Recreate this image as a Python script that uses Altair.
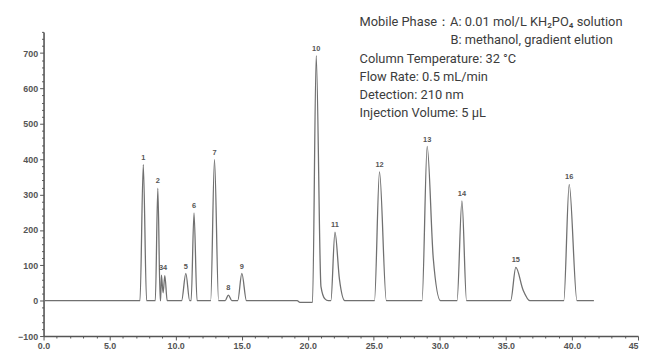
import altair as alt
import pandas as pd

# chromatogram trace (time in min, signal)
trace_time = [0.0, 7.30, 7.55, 7.80, 8.46, 8.65, 8.83, 8.86, 8.92, 9.05, 9.18, 9.36,
              10.45, 10.77, 11.06, 11.17, 11.39, 11.62, 12.65, 12.94, 13.25,
              13.75, 13.99, 14.25, 14.70, 15.01, 15.36, 19.20, 19.40, 20.30,
              20.36, 20.64, 21.00, 21.30, 21.55, 21.75, 22.06, 22.40, 22.80,
              25.05, 25.43, 25.95, 28.65, 29.04, 29.50, 30.05, 31.30, 31.67, 32.02,
              35.36, 35.75, 36.30, 36.82, 39.38, 39.79, 40.38, 41.66]
trace_signal = [0, 0, 385, 0, 0, 318, 0, 0, 72, 22, 71, 0,
                0, 77, 0, 0, 248, 0, 0, 399, 0,
                0, 16, 0, 0, 77, 0, 0, -5, -5,
                -5, 693, 40, 5, 0, 0, 194, 60, 0,
                0, 364, 0, 0, 436, 120, 0, 0, 282, 0,
                0, 94, 30, 0, 0, 329, 0, 0]

# peak labels
label_names = ["1", "2", "34", "5", "6", "7", "8", "9", "10", "11", "12", "13", "14", "15", "16"]
label_times = [7.55, 8.65, 9.05, 10.77, 11.39, 12.94, 13.99, 15.01, 20.64, 22.06, 25.43, 29.04, 31.67, 35.75, 39.79]
label_heights = [385, 318, 72, 77, 248, 399, 16, 77, 693, 194, 364, 436, 282, 94, 329]

# conditions text
info_lines = ["Mobile Phase：A: 0.01 mol/L KH₂PO₄ solution",
              "B: methanol, gradient elution",
              "Column Temperature: 32 °C",
              "Flow Rate: 0.5 mL/min",
              "Detection: 210 nm",
              "Injection Volume: 5 μL"]

trace = pd.DataFrame({"t": trace_time, "s": trace_signal})
labels = pd.DataFrame({"name": label_names, "t": label_times, "s": label_heights})

xs = alt.Scale(domain=[0, 45], nice=False, zero=False)
ys = alt.Scale(domain=[-100, 760], nice=False, zero=False)

axis_color = "#555555"
label_font = "Liberation Sans"

x_axis = alt.Axis(
    title=None,
    values=list(range(0, 46)),
    labelExpr="datum.value === 45 ? '45' : (datum.value % 5 === 0 ? format(datum.value, '.1f') : '')",
    labelAlign={"condition": {"test": "datum.value === 45", "value": "right"}, "value": "center"},
    tickSize={"condition": {"test": "datum.value % 5 === 0", "value": 4}, "value": 2},
    labelFont=label_font, labelFontSize=9, labelFontWeight="bold", labelColor="#555555",
    labelPadding=2, labelOverlap=False, labelBound=False, labelFlush=False,
    domainColor=axis_color, domainWidth=1.6, tickColor=axis_color, tickWidth=1,
    ticks=True, grid=False,
)
y_axis = alt.Axis(
    title=None,
    values=list(range(-100, 761, 20)),
    labelExpr="datum.value % 100 === 0 ? format(datum.value, 'd') : ''",
    tickSize={"condition": {"test": "datum.value % 100 === 0", "value": 4}, "value": 2},
    labelFont=label_font, labelFontSize=9, labelFontWeight="bold", labelColor="#555555",
    labelPadding=2, labelOverlap=False, labelBound=False, labelFlush=False,
    domainColor=axis_color, domainWidth=1.6, tickColor=axis_color, tickWidth=1,
    ticks=True, grid=False,
)

line = alt.Chart(trace).mark_line(color="#707070", strokeWidth=1.3, interpolate="monotone").encode(
    x=alt.X("t:Q", scale=xs, axis=x_axis),
    y=alt.Y("s:Q", scale=ys, axis=y_axis),
)

peak_text = alt.Chart(labels).mark_text(
    fontSize=7.5, fontWeight="bold", color="#555555", dy=-7, font=label_font
).encode(
    x=alt.X("t:Q", scale=xs, axis=x_axis),
    y=alt.Y("s:Q", scale=ys, axis=y_axis),
    text="name:N",
)

info_px = [320, 412, 320, 320, 320, 320]
info_py = [-10, 8.5, 27, 45.5, 64, 82.5]
info_layers = []
for txt, px, py in zip(info_lines, info_px, info_py):
    info_layers.append(
        alt.Chart(pd.DataFrame({"line": [txt]})).mark_text(
            align="left", baseline="middle", fontSize=13, color="#3c3c3c", font="Roboto"
        ).encode(x=alt.value(px), y=alt.value(py), text="line:N")
    )

chart = alt.layer(line, peak_text, *info_layers).properties(
    width=602, height=308,
    autosize=alt.AutoSizeParams(type="none"),
    padding={"left": 36, "top": 22, "right": 2, "bottom": 17},
    background="white",
).configure_view(stroke=None)

chart.save("out.html", embed_options={"renderer": "svg", "actions": False})
